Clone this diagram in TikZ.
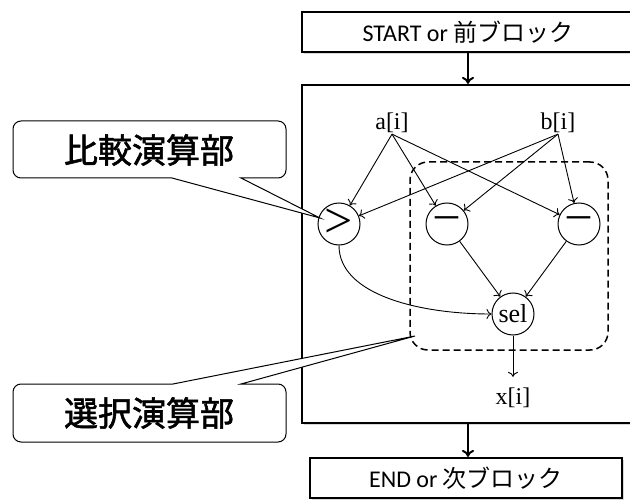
\documentclass[tikz,border=0pt]{standalone}
\usepackage{fontspec}
\setmainfont{Liberation Serif}
\newfontfamily\carl{Carlito}
\newfontfamily\jpf{Noto Sans CJK JP}
\newfontfamily\jpm[FakeBold=1.6]{Noto Sans CJK JP}
\usetikzlibrary{arrows.meta,shadows}
\begin{document}
\begin{tikzpicture}[x=1pt,y=-1pt,
  blk/.style={draw, line width=2.2pt, fill=white, inner sep=0pt,
    drop shadow={opacity=0.3,shadow xshift=2pt,shadow yshift=-2pt},
    font=\fontsize{24}{28}\selectfont},
  op/.style={circle, draw, line width=1pt, minimum size=42pt, inner sep=0pt, fill=white},
  opsym/.style={font=\fontsize{50}{50}\selectfont},
  opmin/.style={font=\fontsize{46}{46}\selectfont},
  lab/.style={inner sep=1pt, font=\fontsize{24}{26}\selectfont},
  arr/.style={line width=0.9pt, -{To[length=5pt,width=10pt]}},
  barr/.style={line width=2pt, -{To[length=7pt,width=12pt]}},
  callout/.style={draw, line width=1pt, fill=white},
  cotext/.style={font=\jpm\fontsize{34}{38}\selectfont},
  grp/.style={draw, line width=1.5pt, dash pattern=on 7pt off 4pt, rounded corners=18pt, inner sep=0pt}
]
\clip (0,0) rectangle (630,500);
\fill[white] (0,0) rectangle (630,500);

% blocks
\node[blk, minimum width=332pt, minimum height=40pt] (start) at (468,32) {{\carl START or }{\jpf 前ブロック}};
\node[blk, minimum width=332pt, minimum height=338pt] (main) at (468,254) {};
\node[blk, minimum width=312pt, minimum height=40pt] (end) at (466,478) {{\carl END or }{\jpf 次ブロック}};
\draw[barr] (start.south) -- (main.north);
\draw[barr] (main.south) -- (main.south |- end.north);

% selection group
\node[grp, minimum width=198pt, minimum height=188pt] (selgrp) at (509,256) {};

% inputs
\node[lab] (a) at (392,123) {a[i]};
\node[lab] (b) at (558,123) {b[i]};

% operators
\node[op, opsym] (gt) at (339,224) {\raisebox{2pt}{>}};
\node[op, opmin] (m1) at (447,224) {\raisebox{3pt}{–}};
\node[op, opmin] (m2) at (579,224) {\raisebox{3pt}{–}};
\node[op, font=\fontsize{26}{26}\selectfont] (sel) at (513,314) {sel};
\node[lab] (x) at (513,398) {x[i]};

\draw[arr] (a.south) -- (gt);
\draw[arr] (a.south) -- (m1);
\draw[arr] (a.south) -- (m2);
\draw[arr] (b.south) -- (gt);
\draw[arr] (b.south) -- (m1);
\draw[arr] (b.south) -- (m2);
\draw[arr] (m1) -- (sel);
\draw[arr] (m2) -- (sel);
\draw[arr] (gt.south) .. controls (339,295) and (420,314) .. (sel.west);
\draw[arr, shorten >=10pt] (sel.south) -- (x.north);

% callouts
\draw[callout] (320,218) -- (172,178) -- (100,178) [rounded corners=8pt] -- (13,178) -- (13,121) -- (286,121) -- (286,178) -- (260,178) [sharp corners] -- (241,178) -- cycle;
\node[cotext] (hikaku) at (149,150) {比較演算部};
\draw[callout] (415,336) -- (173,384) -- (100,384) [rounded corners=8pt] -- (13,384) -- (13,442) -- (286,442) -- (286,384) -- (260,384) [sharp corners] -- (241,384) -- cycle;
\node[cotext] (sentaku) at (149,413) {選択演算部};
\end{tikzpicture}
\end{document}
